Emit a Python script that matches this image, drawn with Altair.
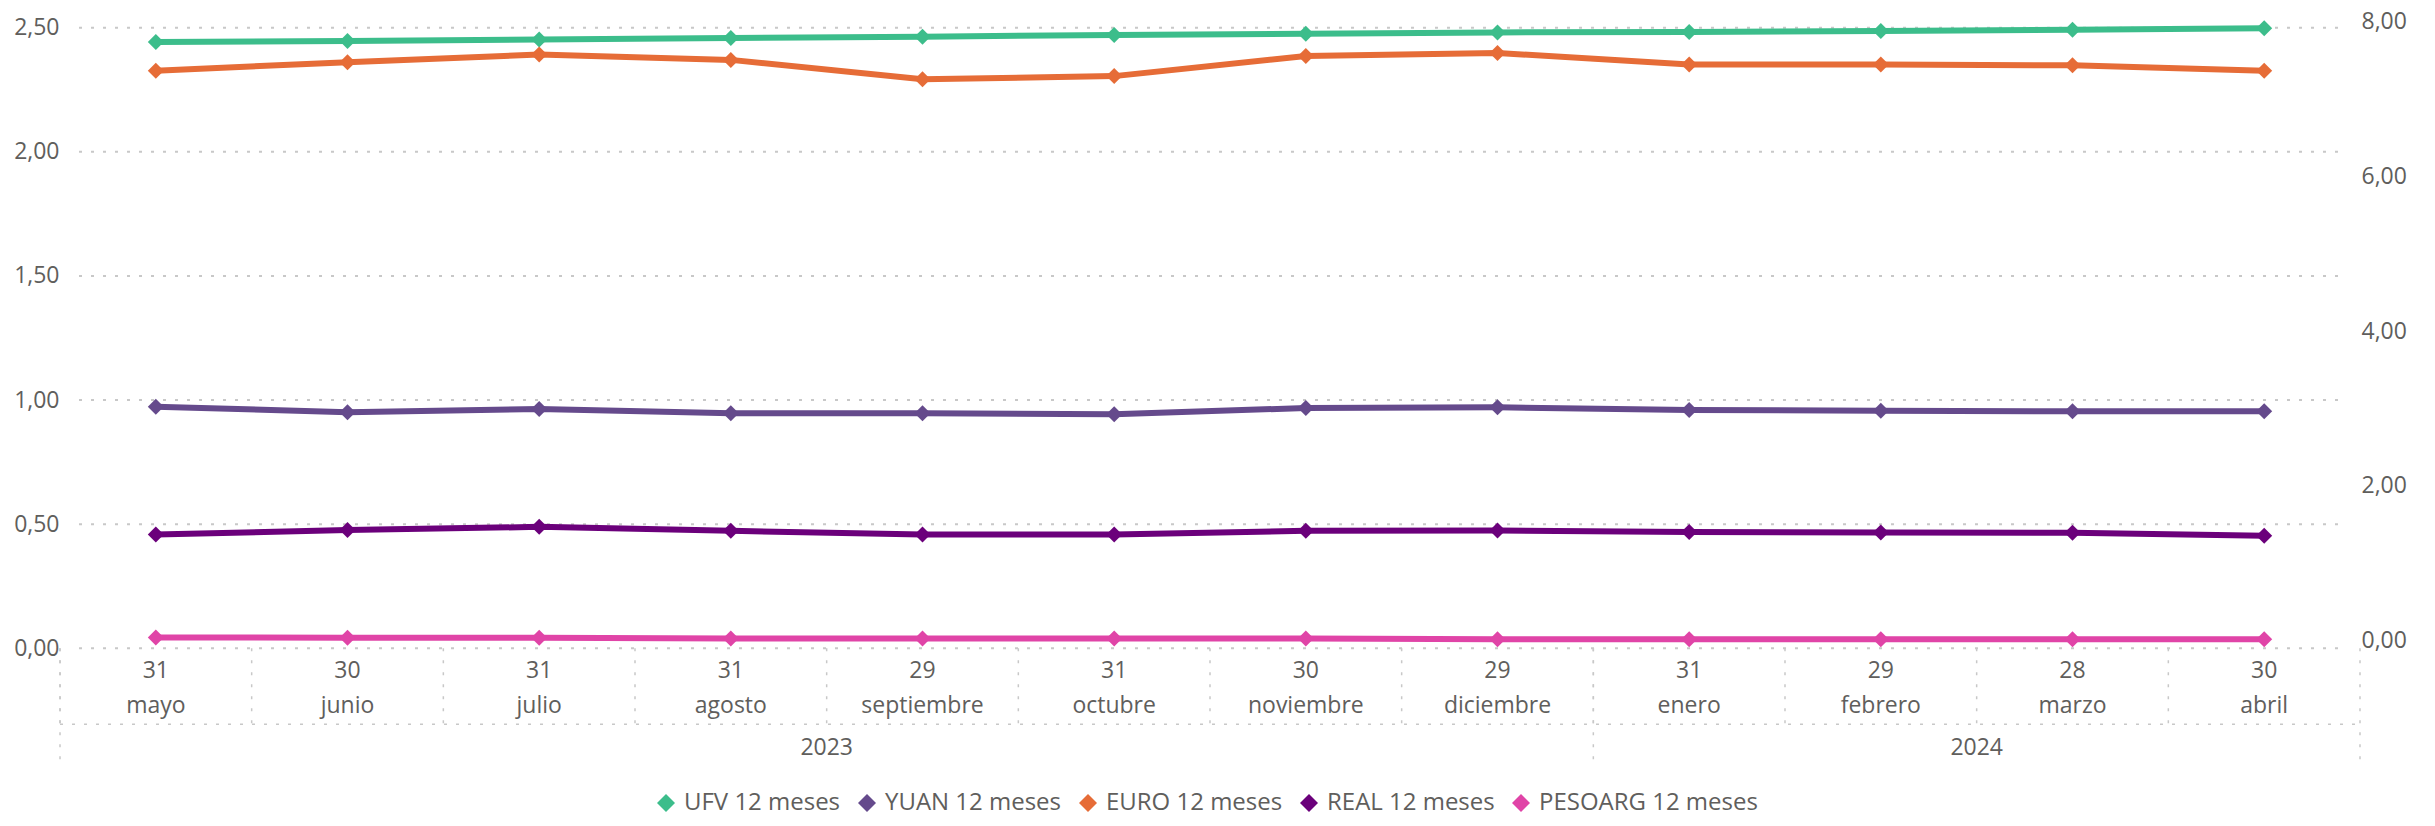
import altair as alt
import pandas as pd

# ---------------- data ----------------
dias = ["31", "30", "31", "31", "29", "31", "30", "29", "31", "29", "28", "30"]
meses = ["mayo", "junio", "julio", "agosto", "septiembre", "octubre",
         "noviembre", "diciembre", "enero", "febrero", "marzo", "abril"]
anios = ["2023", "2023", "2023", "2023", "2023", "2023", "2023", "2023",
         "2024", "2024", "2024", "2024"]

ufv = [2.442, 2.446, 2.452, 2.459, 2.464, 2.471, 2.476, 2.481, 2.483, 2.487, 2.492, 2.498]
yuan = [0.973, 0.951, 0.964, 0.947, 0.947, 0.943, 0.968, 0.971, 0.960, 0.957, 0.955, 0.955]
euro = [7.37, 7.48, 7.58, 7.51, 7.26, 7.30, 7.56, 7.60, 7.45, 7.45, 7.44, 7.37]
real = [1.372, 1.428, 1.470, 1.419, 1.372, 1.372, 1.419, 1.424, 1.402, 1.398, 1.393, 1.354]
pesoarg = [0.038, 0.037, 0.037, 0.027, 0.026, 0.026, 0.025, 0.016, 0.016, 0.015, 0.015, 0.015]

ticks_izq = [0.0, 0.5, 1.0, 1.5, 2.0, 2.5]
ticks_der = [0, 2, 4, 6, 8]

orden = ["UFV 12 meses", "YUAN 12 meses", "EURO 12 meses", "REAL 12 meses", "PESOARG 12 meses"]
colores = ["#3CBD8B", "#654A8C", "#E66C37", "#6B007B", "#E044A7"]

series_izq = {"UFV 12 meses": ufv, "YUAN 12 meses": yuan}
series_der = {"EURO 12 meses": euro, "REAL 12 meses": real, "PESOARG 12 meses": pesoarg}

# ---------------- layout constants ----------------
W = 2300
H = 626.3
FONT = "Open Sans"
TXT = "#605E5C"
GRID = "#C8C8C8"

fechas = [f"{d} {m} {a}" for d, m, a in zip(dias, meses, anios)]


def largo(series):
    rows = []
    for nombre, vals in series.items():
        for f, v in zip(fechas, vals):
            rows.append({"fecha": f, "serie": nombre, "valor": v})
    return pd.DataFrame(rows)


df_izq = largo(series_izq)
df_der = largo(series_der)
df_x = pd.DataFrame({"fecha": fechas, "dia": dias, "mes": meses, "anio": anios})

# year label sits at the middle of each year's span of months
anio_rows = []
for a in sorted(set(anios)):
    idx = [i for i, x in enumerate(anios) if x == a]
    n = len(idx)
    anio_rows.append({"fecha": fechas[idx[0] + n // 2], "anio": a})
df_anio = pd.DataFrame(anio_rows)

df_anio_ini = pd.DataFrame({"fecha": [fechas[anios.index(a)] for a in sorted(set(anios))]})
df_fin = pd.DataFrame({"fecha": [fechas[-1]]})
df_uno = pd.DataFrame({"k": [0]})
df_grid = pd.DataFrame({"valor": ticks_izq})


def xenc(bp=0.5):
    return alt.X("fecha:N", sort=fechas,
                 scale=alt.Scale(type="band", paddingInner=0, paddingOuter=0),
                 axis=None, bandPosition=bp)


lbl = "replace(format(datum.value, '.2f'), '.', ',')"

y_izq = alt.Y("valor:Q", title=None,
              scale=alt.Scale(domain=[0, 2.523], nice=False, zero=False),
              axis=alt.Axis(orient="left", values=ticks_izq, grid=False, ticks=False,
                            domain=False, labelExpr=lbl, labelFont=FONT, labelFontSize=23,
                            labelColor=TXT, labelPadding=1))
y_der = alt.Y("valor:Q", title=None,
              scale=alt.Scale(domain=[-0.1009, 8], nice=False, zero=False),
              axis=alt.Axis(orient="right", values=ticks_der, grid=False, ticks=False,
                            domain=False, labelExpr=lbl, labelFont=FONT, labelFontSize=23,
                            labelColor=TXT, labelPadding=1))

# line colours: a separate stroke scale (listed in reverse so it is not merged
# with the colour legend of the markers)
stroke_enc = alt.Stroke("serie:N",
                        scale=alt.Scale(domain=orden[::-1], range=colores[::-1]),
                        legend=None)
color_lg = alt.Color("serie:N", scale=alt.Scale(domain=orden, range=colores),
                     legend=alt.Legend(title=None, orient="none", direction="horizontal",
                                       legendX=594, legendY=769, symbolType="diamond",
                                       symbolSize=324, symbolStrokeWidth=0, symbolOpacity=1,
                                       labelFont=FONT, labelFontSize=24, labelColor=TXT,
                                       labelLimit=500, labelOffset=6, columnPadding=14,
                                       padding=0))

# ---------------- left group ----------------
grid = alt.Chart(df_grid).mark_rule(strokeDash=[3, 9], color=GRID, strokeWidth=2).encode(
    y=y_izq, x=alt.value(19), x2=alt.value(2280))

Y_TOP = 626.3
sep_mes = alt.Chart(df_x).mark_rule(strokeDash=[3, 9], color=GRID, strokeWidth=1.5).encode(
    x=xenc(0), y=alt.value(Y_TOP), y2=alt.value(702.3))
sep_anio = alt.Chart(df_anio_ini).mark_rule(strokeDash=[3, 9], color=GRID, strokeWidth=1.5).encode(
    x=xenc(0), y=alt.value(Y_TOP), y2=alt.value(746))
sep_fin = alt.Chart(df_fin).mark_rule(strokeDash=[3, 9], color=GRID, strokeWidth=1.5).encode(
    x=xenc(1), y=alt.value(Y_TOP), y2=alt.value(746))
linea_mes = alt.Chart(df_uno).mark_rule(strokeDash=[3, 9], color=GRID, strokeWidth=1.5).encode(
    x=alt.value(0), x2=alt.value(W), y=alt.value(702.3))

txt_dia = alt.Chart(df_x).mark_text(font=FONT, fontSize=23, color=TXT, baseline="middle").encode(
    x=xenc(), y=alt.value(648.7), text="dia:N")
txt_mes = alt.Chart(df_x).mark_text(font=FONT, fontSize=23, color=TXT, baseline="middle").encode(
    x=xenc(), y=alt.value(683.7), text="mes:N")
txt_anio = alt.Chart(df_anio).mark_text(font=FONT, fontSize=23, color=TXT, baseline="middle").encode(
    x=xenc(0), y=alt.value(726), text="anio:N")

lin_izq = alt.Chart(df_izq).mark_line(strokeWidth=6).encode(
    x=xenc(), y=y_izq, stroke=stroke_enc, detail="serie:N")
pts_izq = alt.Chart(df_izq).mark_point(shape="diamond", filled=True, size=256, opacity=1).encode(
    x=xenc(), y=y_izq, color=color_lg)

izq = alt.layer(grid, sep_mes, sep_anio, sep_fin, linea_mes, txt_dia, txt_mes, txt_anio,
                lin_izq, pts_izq)

# ---------------- right group ----------------
lin_der = alt.Chart(df_der).mark_line(strokeWidth=6).encode(
    x=xenc(), y=y_der, stroke=stroke_enc, detail="serie:N")
pts_der = alt.Chart(df_der).mark_point(shape="diamond", filled=True, size=256, opacity=1).encode(
    x=xenc(), y=y_der, color=color_lg)

der = alt.layer(lin_der, pts_der)

chart = alt.layer(izq, der).resolve_scale(y="independent").properties(
    width=W, height=H,
    padding={"left": 52, "top": 14, "right": 60, "bottom": 170},
    autosize=alt.AutoSizeParams(type="none"),
).configure_view(stroke=None)

chart.save("out.html", embed_options={"renderer": "svg", "actions": False})
